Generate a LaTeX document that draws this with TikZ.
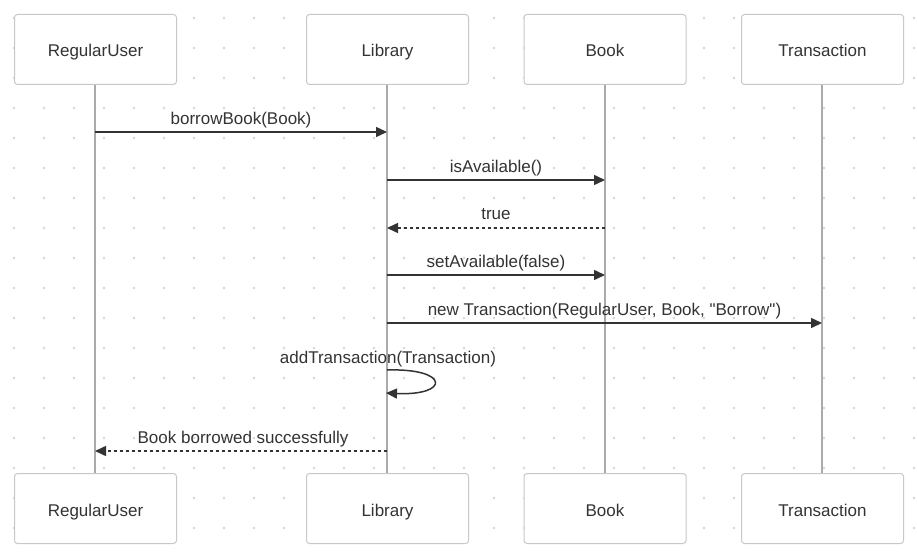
\documentclass[tikz,border=0pt]{standalone}
\usepackage{fontspec}
\setmainfont{Liberation Sans}[Ligatures=TeXOff]
\usetikzlibrary{arrows.meta}
\definecolor{txt}{HTML}{333333}
\definecolor{boxline}{HTML}{C8C8C8}
\definecolor{life}{HTML}{AAAAAA}
\definecolor{dotc}{HTML}{D6D6D6}
\tikzset{
  actor/.style={draw=boxline, line width=1pt, fill=white, rounded corners=3pt,
    minimum width=162pt, minimum height=70pt, inner sep=0pt, anchor=north west,
    text=txt, font=\fontsize{17}{20}\selectfont, text height=15.5pt, text depth=0.5pt},
  lifeline/.style={draw=life, line width=2pt},
  msg/.style={draw=txt, line width=1.5pt, -{Triangle[length=11pt,width=10pt]}},
  reply/.style={msg, dash pattern=on 3pt off 3pt},
  mlabel/.style={text=txt, font=\fontsize{17}{20}\selectfont, inner sep=0pt,
    text height=15.5pt, text depth=0.5pt}
}
\begin{document}
\begin{tikzpicture}[x=1pt,y=-1pt]
\useasboundingbox (0,0) rectangle (917,553);
\fill[white] (0,0) rectangle (917,553);
% dot grid
\foreach \i in {0,...,30}{
  \foreach \j in {0,...,18}{
    \fill[dotc] (14+30*\i,18+30*\j) circle (1.4pt);
  }
}
% lifelines
\draw[lifeline] (95,84) -- (95,473);
\draw[lifeline] (387,84) -- (387,473);
\draw[lifeline] (605,84) -- (605,473);
\draw[lifeline] (822,84) -- (822,473);
% actors
\node[actor] (ruT) at (14,14) {RegularUser};
\node[actor] (libT) at (306,14) {Library};
\node[actor] (bookT) at (523.5,14) {Book};
\node[actor] (trT) at (741,14) {Transaction};
\node[actor] (ruB) at (14,473) {RegularUser};
\node[actor] (libB) at (306,473) {Library};
\node[actor] (bookB) at (523.5,473) {Book};
\node[actor] (trB) at (741,473) {Transaction};
% message anchors
\coordinate (ru1) at (95,132);   \coordinate (lib1) at (387,132);
\coordinate (lib2) at (387,180); \coordinate (book2) at (605,180);
\coordinate (book3) at (605,228);\coordinate (lib3) at (387,228);
\coordinate (lib4) at (387,275); \coordinate (book4) at (605,275);
\coordinate (lib5) at (387,323); \coordinate (tr5) at (822,323);
\coordinate (lib6a) at (387,370);\coordinate (lib6b) at (386,393);
\coordinate (lib7) at (387,451); \coordinate (ru7) at (95,451);
% messages
\draw[msg] (ru1) -- (lib1);
\node[mlabel] (l1) at (241,117) {borrowBook(Book)};
\draw[msg] (lib2) -- (book2);
\node[mlabel] (l2) at (496,165) {isAvailable()};
\draw[reply] (book3) -- (lib3);
\node[mlabel] (l3) at (496,212) {true};
\draw[msg] (lib4) -- (book4);
\node[mlabel] (l4) at (496,260) {setAvailable(false)};
\draw[msg] (lib5) -- (tr5);
\node[mlabel] (l5) at (604.5,308) {new Transaction(RegularUser, Book, "Borrow")};
\node[mlabel] (l6) at (388,356) {addTransaction(Transaction)};
\draw[msg] (lib6a) .. controls (450,368) and (450,396) .. (lib6b);
\draw[reply] (lib7) -- (ru7);
\node[mlabel] (l7) at (243,436) {Book borrowed successfully};
\end{tikzpicture}
\end{document}
